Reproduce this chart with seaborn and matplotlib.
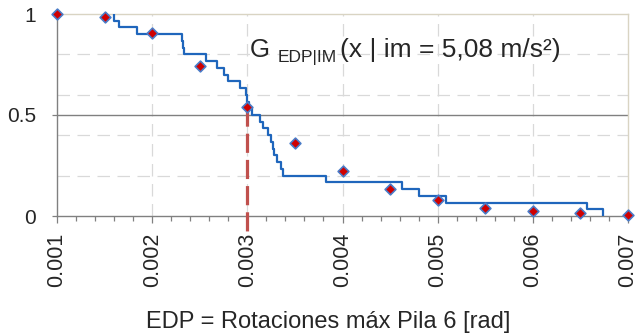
import numpy as np
import pandas as pd
import matplotlib
matplotlib.use("Agg")
import matplotlib.pyplot as plt
import seaborn as sns
from matplotlib.ticker import MultipleLocator

# ---- data ----
edp_samples = [0.00160, 0.00165, 0.00184, 0.00231, 0.00232, 0.00233, 0.00257,
               0.00268, 0.00275, 0.00280, 0.00292, 0.00299, 0.00300, 0.00302,
               0.00305, 0.00313, 0.00316, 0.00322, 0.00325, 0.00327, 0.00328,
               0.00331, 0.00335, 0.00338, 0.00383, 0.00462, 0.00480, 0.00509,
               0.00657, 0.00674]
fit_x = [0.001, 0.0015, 0.002, 0.0025, 0.003, 0.0035, 0.004, 0.0045,
         0.005, 0.0055, 0.006, 0.0065, 0.007]
fit_g = [1.0, 0.985, 0.906, 0.743, 0.541, 0.36, 0.223, 0.134,
         0.078, 0.041, 0.025, 0.013, 0.005]
edp_target = 0.003
xtick_vals = [0.001, 0.002, 0.003, 0.004, 0.005, 0.006, 0.007]
xtick_labels = ["0.001", "0.002", "0.003", "0.004", "0.005", "0.006", "0.007"]
ytick_vals = [0, 0.5, 1]
ytick_labels = ["0", "0.5", "1"]
xlabel = "EDP = Rotaciones máx Pila 6 [rad]"
title_main = "G"
title_sub = "EDP|IM"
title_rest = "(x | im = 5,08 m/s²)"

sns.set_theme(style="white")
plt.rcParams['font.family'] = ['Liberation Sans', 'DejaVu Sans']

fig = plt.figure(figsize=(6.4, 3.36), dpi=100)
ax = fig.add_axes([57/640, 1-216/336, (628-57)/640, (216-14)/336])

grid_c = "#D9D9D9"
for gy in [0.2, 0.4, 0.6, 0.8]:
    ax.axhline(gy, color=grid_c, lw=0.9, ls=(0, (10, 6)), zorder=0)
for gx in [0.002, 0.003, 0.004, 0.005, 0.006]:
    ax.axvline(gx, color=grid_c, lw=0.9, ls=(0, (10, 6)), zorder=0)
ax.axhline(0.5, color="#808080", lw=1.0, zorder=1)

df_s = pd.DataFrame({"edp": edp_samples})
sns.ecdfplot(data=df_s, x="edp", complementary=True, ax=ax,
             color="#1F66BC", lw=1.6, zorder=3)

df_f = pd.DataFrame({"x": fit_x, "g": fit_g})
sns.scatterplot(data=df_f, x="x", y="g", ax=ax, marker="D", s=30,
                color="#D00000", edgecolor="#4A7CC8", linewidth=1.2,
                zorder=5, clip_on=False)

idx = fit_x.index(edp_target)
ax.plot([edp_target, edp_target], [fit_g[idx], -0.09], color="#C0504D",
        lw=2.3, ls=(0, (6, 2.2)), zorder=4, clip_on=False)

ax.set_xlim(0.001, 0.007)
ax.set_ylim(0, 1)
ax.set_xticks(xtick_vals)
ax.set_xticklabels(xtick_labels, rotation=90, fontsize=15.5)
ax.xaxis.set_minor_locator(MultipleLocator(0.0002))
ax.set_yticks(ytick_vals)
ax.set_yticklabels(ytick_labels, fontsize=15)
ax.tick_params(axis="x", which="major", length=5, width=0.9, color="#808080",
               pad=7, direction="out", bottom=True)
ax.tick_params(axis="x", which="minor", length=3.6, width=0.9, color="#808080",
               direction="out", bottom=True)
ax.tick_params(axis="y", which="major", length=3.6, width=0.9, color="#808080",
               pad=11.5, direction="out", left=True)

for side in ["left", "bottom"]:
    ax.spines[side].set_color("#808080")
    ax.spines[side].set_linewidth(1.0)
for side in ["top", "right"]:
    ax.spines[side].set_color("#D9D4C3")
    ax.spines[side].set_linewidth(1.0)

ax.set_xlabel(xlabel, fontsize=17)
ax.xaxis.set_label_coords(0.4755, -0.556)
ax.xaxis.label.set_va("baseline")
ax.set_ylabel("")

ax.text(0.003027, 0.789, title_main, fontsize=18.5, ha="left", va="baseline")
ax.text(0.003321, 0.764, title_sub, fontsize=12.5, ha="left", va="baseline")
ax.text(0.003973, 0.789, title_rest, fontsize=19, ha="left", va="baseline")

fig.savefig("out.png", dpi=100)
